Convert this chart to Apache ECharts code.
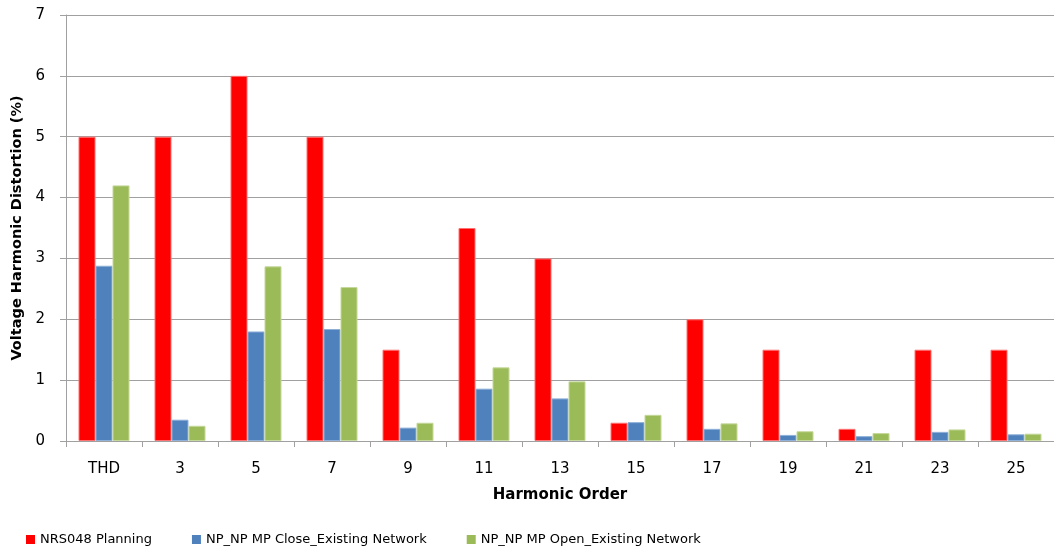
<!DOCTYPE html>
<html>
<head>
<meta charset="utf-8">
<script src="https://cdn.jsdelivr.net/npm/echarts@6/dist/echarts.min.js"></script>
<style>
  html, body { margin: 0; padding: 0; background: #fff; }
  #chart { width: 1054px; height: 548px; }
</style>
</head>
<body>
<div id="chart"></div>
<script>
// Harmonic orders on the x axis
const categories = ['THD', '3', '5', '7', '9', '11', '13', '15', '17', '19', '21', '23', '25'];

// Voltage harmonic distortion, percent
const nrs048Planning = [5, 5, 6, 5, 1.5, 3.5, 3, 0.3, 2, 1.5, 0.2, 1.5, 1.5];
const mpCloseExisting = [2.88, 0.35, 1.8, 1.84, 0.22, 0.86, 0.7, 0.31, 0.2, 0.1, 0.08, 0.15, 0.11];
const mpOpenExisting = [4.2, 0.25, 2.87, 2.53, 0.3, 1.21, 0.98, 0.43, 0.29, 0.16, 0.13, 0.19, 0.12];

const seriesNames = ['NRS048 Planning', 'NP_NP MP Close_Existing Network', 'NP_NP MP Open_Existing Network'];

const FONT = "'DejaVu Sans', Verdana, sans-serif";
const GRID_GREY = '#a0a0a0';

const chart = echarts.init(document.getElementById('chart'), null, { renderer: 'canvas' });

function barSeries(name, data, color, edge) {
  return {
    name: name,
    type: 'bar',
    data: data,
    barWidth: 17,
    barGap: '0%',
    itemStyle: { color: color, borderColor: edge, borderWidth: 1 },
    emphasis: { disabled: true }
  };
}

chart.setOption({
  animation: false,
  textStyle: { fontFamily: FONT },
  grid: { left: 66, top: 15, width: 997, bottom: 107, containLabel: false },
  legend: {
    data: seriesNames,
    left: 21,
    top: 528,
    itemWidth: 9,
    itemHeight: 9,
    itemGap: 40,
    icon: 'rect',
    itemStyle: { borderWidth: 0 },
    textStyle: { fontFamily: FONT, fontSize: 13, color: '#000' }
  },
  xAxis: {
    type: 'category',
    data: categories,
    name: 'Harmonic Order',
    nameLocation: 'middle',
    nameGap: 47,
    nameTextStyle: { fontFamily: FONT, fontSize: 15, fontWeight: 'bold', color: '#000' },
    axisLine: { lineStyle: { color: GRID_GREY, width: 1 } },
    axisTick: { show: true, length: 6, lineStyle: { color: GRID_GREY } },
    axisLabel: { fontFamily: FONT, fontSize: 15, color: '#000', margin: 21 }
  },
  yAxis: {
    type: 'value',
    min: 0,
    max: 7,
    interval: 1,
    name: 'Voltage Harmonic Distortion (%)',
    nameLocation: 'middle',
    nameGap: 38,
    nameTextStyle: { fontFamily: FONT, fontSize: 14.5, fontWeight: 'bold', color: '#000' },
    axisLine: { show: true, lineStyle: { color: GRID_GREY, width: 1 } },
    axisTick: { show: true, length: 6, lineStyle: { color: GRID_GREY } },
    axisLabel: { fontFamily: FONT, fontSize: 15, color: '#000', margin: 21 },
    splitLine: { show: true, lineStyle: { color: GRID_GREY, width: 1 } }
  },
  series: [
    barSeries(seriesNames[0], nrs048Planning, '#ff0000', '#ff7070'),
    barSeries(seriesNames[1], mpCloseExisting, '#4f81bd', '#8fb0d8'),
    barSeries(seriesNames[2], mpOpenExisting, '#9bbb59', '#c4d89a')
  ]
});
</script>
</body>
</html>
